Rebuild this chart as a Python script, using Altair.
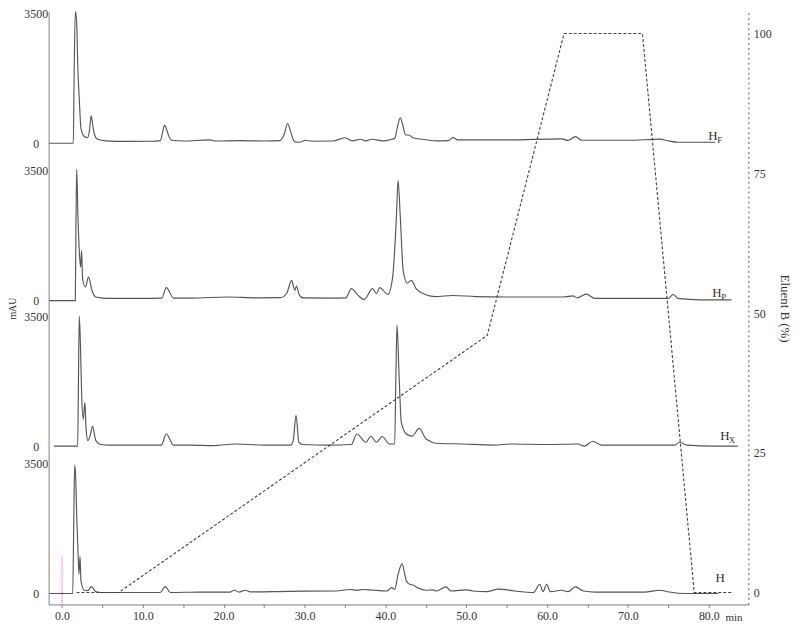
import altair as alt
import pandas as pd

# ---- chromatogram traces (time in min, signal in mAU above each trace's own baseline) ----
t_hf = [-1.6, 1.4, 1.5, 1.65, 1.82, 1.94, 2.14, 2.35, 2.76, 3.16, 3.4, 3.61, 3.8, 3.98, 4.39, 5.4,
        8.0, 11.0, 12.15, 12.5, 12.68, 12.9, 13.2, 13.6, 15.0, 18.3, 19.0, 22.0, 25.0, 26.9, 27.5,
        27.9, 28.3, 28.6, 28.9, 29.4, 30.1, 31.0, 33.5, 35.0, 35.9, 36.9, 37.6, 38.3, 39.8, 40.75,
        41.15, 41.45, 41.85, 42.2, 42.5, 42.9, 43.4, 44.6, 46.3, 47.8, 48.3, 49.0, 55.0, 61.8, 62.6,
        63.5, 64.3, 70.0, 74.0, 74.8, 76.2, 80.8]
v_hf = [0, 0, 1800, 3550, 3250, 2180, 1200, 400, 180, 150, 350, 740, 500, 270, 107, 64,
        50, 55, 70, 350, 490, 400, 200, 80, 60, 90, 60, 70, 60, 70, 250,
        534, 300, 100, 30, 27, 80, 55, 60, 150, 64, 107, 64, 107, 64, 107,
        130, 400, 686, 446, 224, 224, 150, 107, 64, 70, 152, 90, 90, 120, 75,
        180, 80, 80, 110, 75, 27, 27]

t_hp = [-1.6, 1.65, 1.72, 1.82, 1.98, 2.14, 2.3, 2.43, 2.55, 2.88, 3.29, 3.7, 4.2, 5.8, 10.0,
        12.35, 12.9, 13.8, 16.0, 20.5, 24.0, 27.0, 27.8, 28.4, 28.8, 29.0, 29.3, 29.8, 33.0, 35.1,
        35.8, 36.6, 37.4, 38.4, 38.9, 39.3, 40.3, 40.9, 41.36, 41.57, 41.85, 42.2, 42.7, 43.2, 43.8,
        45.0, 46.2, 48.3, 51.2, 55.0, 62.0, 63.2, 63.7, 64.85, 65.9, 70.0, 75.0, 75.6, 76.2, 78.9,
        82.8]
v_hp = [0, 0, 1800, 3550, 2240, 1350, 900, 1350, 590, 370, 635, 280, 100, 60, 60,
        70, 350, 70, 70, 100, 75, 80, 200, 547, 280, 395, 180, 75, 70, 75,
        325, 150, 30, 325, 190, 350, 170, 635, 2240, 3235, 2240, 815, 475, 547, 325,
        160, 110, 140, 110, 100, 100, 130, 75, 175, 60, 60, 60, 165, 60, 20,
        20]

t_hx = [-1.0, 1.94, 2.04, 2.14, 2.3, 2.43, 2.63, 2.75, 2.84, 2.98, 3.21, 3.5, 3.78, 4.19, 4.8,
        5.8, 10.0, 12.3, 12.9, 13.8, 16.0, 18.7, 21.5, 25.0, 28.3, 28.6, 28.95, 29.3, 29.8, 33.0,
        35.8, 36.46, 37.6, 38.2, 38.9, 39.6, 40.5, 41.15, 41.3, 41.44, 41.7, 41.97, 42.6, 43.3, 44.2,
        45.0, 45.4, 46.2, 49.5, 53.4, 55.6, 60.1, 63.8, 64.6, 65.65, 66.7, 72.0, 75.8, 76.4, 77.3,
        80.6, 83.6]
v_hx = [0, 0, 1800, 3505, 2600, 1440, 730, 1000, 1175, 460, 150, 300, 534, 150, 45,
        30, 30, 30, 328, 30, 30, 15, 60, 30, 30, 150, 835, 110, 45, 30,
        45, 328, 107, 267, 107, 260, 60, 60, 1885, 3265, 1885, 640, 328, 270, 480,
        200, 150, 80, 60, 30, 60, 45, 60, 0, 133, 30, 30, 30, 107, 30,
        0, 0]

t_h = [-1.6, 1.33, 1.45, 1.57, 1.7, 1.82, 1.98, 2.1, 2.23, 2.35, 2.76, 3.2, 3.65, 4.2, 5.4,
       10.0, 12.15, 12.77, 13.4, 17.0, 20.8, 21.3, 21.9, 22.65, 23.3, 28.0, 33.9, 35.6, 36.5, 37.3,
       38.5, 40.2, 40.75, 41.15, 41.57, 42.05, 42.6, 43.0, 43.4, 44.1, 45.0, 45.9, 46.3, 47.5, 48.1,
       50.0, 50.8, 52.5, 54.0, 56.0, 58.3, 59.1, 59.5, 59.95, 60.4, 61.8, 62.6, 63.5, 64.5, 66.0,
       72.0, 74.0, 74.9, 77.3, 81.2]
v_h = [0, 0, 1800, 3470, 3100, 2120, 1140, 515, 1005, 340, 90, 80, 187, 50, 27,
       27, 27, 187, 27, 40, 40, 90, 40, 90, 45, 60, 70, 110, 85, 110,
       90, 70, 160, 110, 515, 800, 340, 250, 230, 140, 90, 100, 70, 180, 70,
       100, 70, 50, 120, 70, 27, 250, 50, 250, 50, 90, 50, 180, 70, 40,
       40, 90, 50, 0, 0]

# ---- gradient programme (Eluent B, %) ----
t_grad = [1.8, 7.0, 52.6, 62.1, 71.8, 78.2, 83.0]
b_grad = [0, 0, 46, 100, 100, 0, 0]

# ---- trace labels ----
lab_series = ["HF", "HP", "HX", "H"]
lab_main = ["H", "H", "H", "H"]
lab_sub = ["F", "P", "X", ""]
lab_t = [80.5, 81.0, 82.0, 81.4]
lab_v = [205, 192, 262, 427]

# injection marker
marker_t = [0.0]
marker_top = [1000]

left_tick_labels = ["0", "3500"]

# ---- layout: vertical stacking offsets of the traces (mAU units) ----
offsets = {"HF": 12139, "HP": 7896, "HX": 3973, "H": 0}
y_left_domain = [-294, 15685]
y_right_domain = [-2.13, 103.9]
x_domain = [-1.65, 84.9]

rows = []
for name, ts, vs in [("HF", t_hf, v_hf), ("HP", t_hp, v_hp), ("HX", t_hx, v_hx), ("H", t_h, v_h)]:
    for i, (t, v) in enumerate(zip(ts, vs)):
        rows.append({"series": name, "t": t, "v": v, "i": i})
df = pd.DataFrame(rows)
df["y"] = df["v"] + df["series"].map(offsets)

grad_df = pd.DataFrame({"t": t_grad, "b": b_grad})
lab_df = pd.DataFrame({"series": lab_series, "main": lab_main, "sub": lab_sub, "t": lab_t, "v": lab_v})
lab_df["y"] = lab_df["v"] + lab_df["series"].map(offsets)
mark_df = pd.DataFrame({"t": marker_t, "top": [marker_top[0] + offsets["H"]]})

zeros = sorted(offsets.values())
tops = [z + 3500 for z in zeros]
left_vals = sorted(zeros + tops)
label_expr = ("indexof([" + ",".join(str(z) for z in zeros) + "], datum.value) >= 0 ? '"
              + left_tick_labels[0] + "' : '" + left_tick_labels[1] + "'")

FONT = "Liberation Serif"
TXT = "#333333"
AX = "#808080"

xscale = alt.Scale(domain=x_domain, nice=False, zero=False)
yscale = alt.Scale(domain=y_left_domain, nice=False, zero=False)

xaxis = alt.Axis(values=list(range(0, 85, 5)),
                 labelExpr="datum.value % 10 == 0 ? format(datum.value, '.1f') : ''",
                 tickSize=3, tickColor=AX, domainColor=AX, grid=False,
                 labelFont=FONT, labelFontSize=12, labelColor=TXT, labelPadding=3,
                 title="min", titleFont=FONT, titleFontSize=11, titleFontWeight="normal",
                 titleColor=TXT, titleX=691, titleY=13, titleBaseline="middle", titleAlign="center")

yaxis = alt.Axis(orient="left", values=left_vals, labelExpr=label_expr, ticks=False,
                 domainColor=AX, grid=False, labelFont=FONT, labelFontSize=12, labelColor=TXT,
                 labelAlign="center", labelBaseline="middle", labelPadding=13, labelOverlap=False,
                 title="mAU", titleFont=FONT, titleFontSize=10, titleFontWeight="normal",
                 titleColor=TXT, titlePadding=6)

traces = alt.Chart(df).mark_line(color="#555555", strokeWidth=1.15, interpolate="monotone").encode(
    x=alt.X("t:Q", scale=xscale, axis=xaxis),
    y=alt.Y("y:Q", scale=yscale, axis=yaxis),
    detail="series:N",
    order="i:Q",
)

grad = alt.Chart(grad_df).mark_line(color="#404040", strokeWidth=1.1, strokeDash=[3, 2]).encode(
    x=alt.X("t:Q", scale=xscale),
    y=alt.Y("b:Q", scale=alt.Scale(domain=y_right_domain, nice=False, zero=False),
            axis=alt.Axis(orient="right", values=[0, 25, 50, 75, 100], ticks=False,
                          domainColor="#555555", domainDash=[2, 3], grid=False,
                          labelFont=FONT, labelFontSize=12, labelColor=TXT, labelPadding=5,
                          title="Eluent B (%)", titleFont=FONT, titleFontSize=13,
                          titleFontWeight="normal", titleColor=TXT, titlePadding=6)),
)

labels_main = alt.Chart(lab_df).mark_text(font=FONT, fontSize=13, color=TXT, align="center",
                                          baseline="middle").encode(
    x=alt.X("t:Q", scale=xscale),
    y=alt.Y("y:Q", scale=yscale, axis=None),
    text="main:N",
)
labels_sub = alt.Chart(lab_df).mark_text(font=FONT, fontSize=9, color=TXT, align="center",
                                         baseline="middle", dx=7, dy=4).encode(
    x=alt.X("t:Q", scale=xscale),
    y=alt.Y("y:Q", scale=yscale, axis=None),
    text="sub:N",
)

marker = alt.Chart(mark_df).mark_rule(color="#ff33ff", strokeWidth=1, strokeDash=[1, 1]).encode(
    x=alt.X("t:Q", scale=xscale),
    y=alt.Y("top:Q", scale=yscale, axis=None),
    y2=alt.value(598),
)

chart = alt.layer(traces, grad, labels_main, labels_sub, marker).resolve_scale(
    y="independent"
).properties(
    width=706, height=598,
    background="white",
    autosize=alt.AutoSizeParams(type="none"),
    padding={"left": 41, "top": 1, "right": 44, "bottom": 22},
).configure_view(strokeWidth=0, stroke="transparent")

chart.save("out.html", embed_options={"renderer": "svg", "actions": False})
